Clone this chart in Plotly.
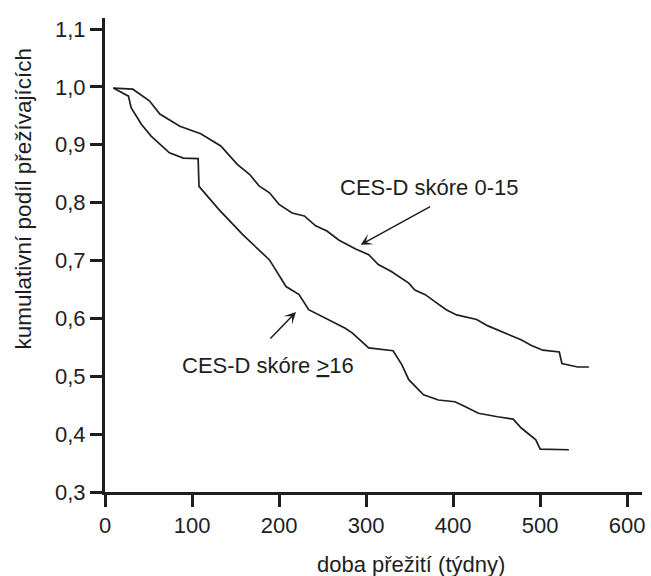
import plotly.graph_objects as go

# Survival curve: CES-D score 0-15
weeks_low = [9.5, 32, 51, 63, 86, 110, 133, 152, 166, 177, 189, 200, 215, 229, 242, 255,
             269, 288, 303, 314, 329, 349, 356, 368, 379, 392, 404, 427, 440, 455, 467,
             478, 490, 503, 522, 525, 543, 556]
surv_low = [0.998, 0.996, 0.976, 0.953, 0.932, 0.919, 0.898, 0.866, 0.849, 0.829, 0.817,
            0.797, 0.782, 0.777, 0.760, 0.751, 0.735, 0.720, 0.710, 0.693, 0.681, 0.661,
            0.649, 0.641, 0.629, 0.615, 0.606, 0.598, 0.587, 0.577, 0.569, 0.563, 0.553,
            0.545, 0.542, 0.522, 0.516, 0.516]

# Survival curve: CES-D score >=16
weeks_high = [9.5, 27, 30, 42, 53, 74, 90, 107, 108, 131, 158, 189, 208, 223, 234, 257,
              276, 284, 303, 331, 341, 349, 366, 383, 402, 413, 429, 451, 469, 478, 495,
              500, 533]
surv_high = [0.998, 0.984, 0.964, 0.935, 0.915, 0.886, 0.877, 0.876, 0.828, 0.788, 0.745,
             0.701, 0.655, 0.641, 0.615, 0.598, 0.583, 0.575, 0.549, 0.544, 0.520, 0.494,
             0.468, 0.459, 0.456, 0.448, 0.436, 0.430, 0.426, 0.411, 0.390, 0.374, 0.373]

x_ticks = [0, 100, 200, 300, 400, 500, 600]
x_tick_labels = ["0", "100", "200", "300", "400", "500", "600"]
y_ticks = [0.3, 0.4, 0.5, 0.6, 0.7, 0.8, 0.9, 1.0, 1.1]
y_tick_labels = ["0,3", "0,4", "0,5", "0,6", "0,7", "0,8", "0,9", "1,0", "1,1"]

label_low = "CES-D skóre 0-15"
label_high = "CES-D skóre <u>&gt;</u>16"
x_title = "doba přežití (týdny)"
y_title = "kumulativní podíl přežívajících"

INK = "#1e1e1e"
FONT = "Liberation Sans, Arial, sans-serif"

fig = go.Figure()
fig.add_trace(go.Scatter(x=weeks_low, y=surv_low, mode="lines",
                         line=dict(color=INK, width=1.7), showlegend=False,
                         hoverinfo="skip"))
fig.add_trace(go.Scatter(x=weeks_high, y=surv_high, mode="lines",
                         line=dict(color=INK, width=1.7), showlegend=False,
                         hoverinfo="skip"))

axis_common = dict(showline=True, linewidth=3, linecolor=INK, ticks="outside",
                   ticklen=12, tickwidth=3, tickcolor=INK, showgrid=False,
                   zeroline=False, tickfont=dict(family=FONT, size=22, color=INK))

fig.update_xaxes(range=[0, 617], tickvals=x_ticks, ticktext=x_tick_labels, **axis_common)
fig.update_yaxes(range=[0.3, 1.119], tickvals=y_ticks, ticktext=y_tick_labels, **axis_common)

annotations = [
    dict(x=293.7, y=0.727, xref="x", yref="y", text="", showarrow=True,
         ax=71, ay=-39, arrowhead=3, arrowsize=1.3, arrowwidth=1.5, arrowcolor=INK),
    dict(x=219.4, y=0.611, xref="x", yref="y", text="", showarrow=True,
         ax=-27, ay=28, arrowhead=3, arrowsize=1.3, arrowwidth=1.5, arrowcolor=INK),
    dict(x=373, y=0.827, xref="x", yref="y", text=label_low, showarrow=False,
         xanchor="center", yanchor="middle",
         font=dict(family=FONT, size=22, color=INK)),
    dict(x=86, y=0.519, xref="x", yref="y", text=label_high, showarrow=False,
         xanchor="left", yanchor="middle",
         font=dict(family=FONT, size=22, color=INK)),
    dict(x=0.569, y=-0.154, xref="paper", yref="paper", text=x_title, showarrow=False,
         xanchor="center", yanchor="middle",
         font=dict(family=FONT, size=22, color=INK)),
    dict(x=-0.152, y=0.618, xref="paper", yref="paper", text=y_title, showarrow=False,
         textangle=-90, xanchor="center", yanchor="middle",
         font=dict(family=FONT, size=22.5, color=INK)),
]

fig.update_layout(
    width=651, height=576,
    margin=dict(l=105, r=6, t=18, b=84),
    paper_bgcolor="white", plot_bgcolor="white",
    annotations=annotations,
    font=dict(family=FONT, color=INK),
)

fig.write_html("out.html")
